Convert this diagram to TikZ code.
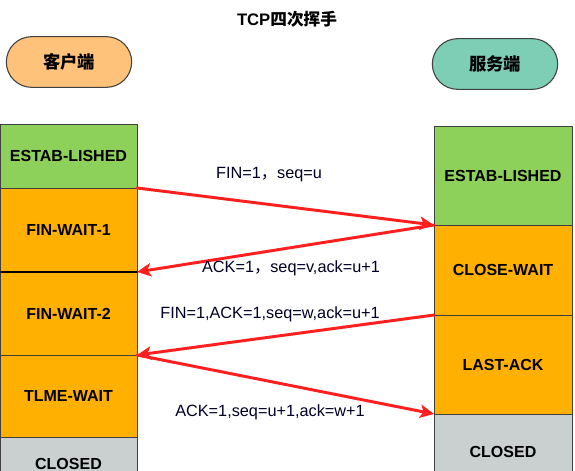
\documentclass[tikz,border=0pt]{standalone}
\usepackage{fontspec}
\setmainfont{Liberation Sans}
\newfontfamily\cjk{Noto Sans CJK SC}
\usepackage{xcolor}
\usepackage{tikz}
\usetikzlibrary{arrows.meta}

\definecolor{estabgreen}{HTML}{8DD05A}
\definecolor{waitorange}{HTML}{FFB000}
\definecolor{closedgray}{HTML}{C9D0CF}
\definecolor{clientorange}{HTML}{FFC27B}
\definecolor{serverteal}{HTML}{7ECDB5}
\definecolor{msgred}{HTML}{FF1F1F}

\begin{document}
\begin{tikzpicture}[x=0.75pt,y=-0.75pt,line cap=round,line join=round]
\tikzset{
    party/.style={draw=black!75, line width=0.8pt, rounded corners=19pt, minimum width=94pt, minimum height=38pt, font=\cjk\bfseries\fontsize{13}{15}\selectfont},
    stateleft/.style={draw=black!75, line width=0.7pt, outer sep=0pt, minimum width=102.75pt, font=\bfseries\fontsize{12}{14}\selectfont},
    stateright/.style={stateleft, minimum width=103.5pt},
    msg/.style={draw=msgred, line width=2.2pt, -{Stealth[length=10.5pt,width=10pt,inset=2.5pt]}},
    msglabel/.style={font=\fontsize{12.2}{14}\selectfont, text=black!85!blue},
}
\clip (0,0) rectangle (575,471);
% title and the two parties
\node[font=\bfseries\fontsize{12.5}{14}\selectfont] (title) at (287,19) {TCP{\cjk 四次挥手}};
\node[party, fill=clientorange] (client) at (69,62) {客户端};
\node[party, fill=serverteal] (server) at (495,64) {服务端};
% client states
\node[stateleft, fill=estabgreen, minimum height=48pt] (cest) at (68.5,156) {ESTAB-LISHED};
\node[stateleft, fill=waitorange, minimum height=63pt] (cfw1) at (68.5,230) {FIN-WAIT-1};
\node[stateleft, fill=waitorange, minimum height=62.25pt] (cfw2) at (68.5,313.5) {FIN-WAIT-2};
\node[stateleft, fill=waitorange, minimum height=61.5pt] (ctw) at (68.5,396) {TLME-WAIT};
\node[stateleft, fill=closedgray, minimum height=39.75pt] (ccl) at (68.5,463.5) {CLOSED};
\draw[line width=1.6pt] (cfw1.south west) -- (cfw1.south east);
% server states
\node[stateright, fill=estabgreen, minimum height=74.25pt] (sest) at (503,175.5) {ESTAB-LISHED};
\node[stateright, fill=waitorange, minimum height=67.5pt] (scw) at (503,270) {CLOSE-WAIT};
\node[stateright, fill=waitorange, minimum height=74.25pt] (slack) at (503,364.5) {LAST-ACK};
\node[stateright, fill=closedgray, minimum height=57pt] (scl) at (503,452) {CLOSED};
% messages
\draw[msg] (cest.south east) -- (sest.south west);
\draw[msg] (scw.north west) -- (cfw1.south east);
\draw[msg] (slack.north west) -- (ctw.north east);
\draw[msg] (ctw.north east) -- (slack.south west);
\node[msglabel] (fin1) at (269,175) {FIN=1{\cjk ，}seq=u};
\node[msglabel] (ack1) at (291,268) {ACK=1{\cjk ，}seq=v,ack=u+1};
\node[msglabel] (fin2) at (270,314) {FIN=1,ACK=1,seq=w,ack=u+1};
\node[msglabel] (ack2) at (270,412) {ACK=1,seq=u+1,ack=w+1};
\end{tikzpicture}
\end{document}
